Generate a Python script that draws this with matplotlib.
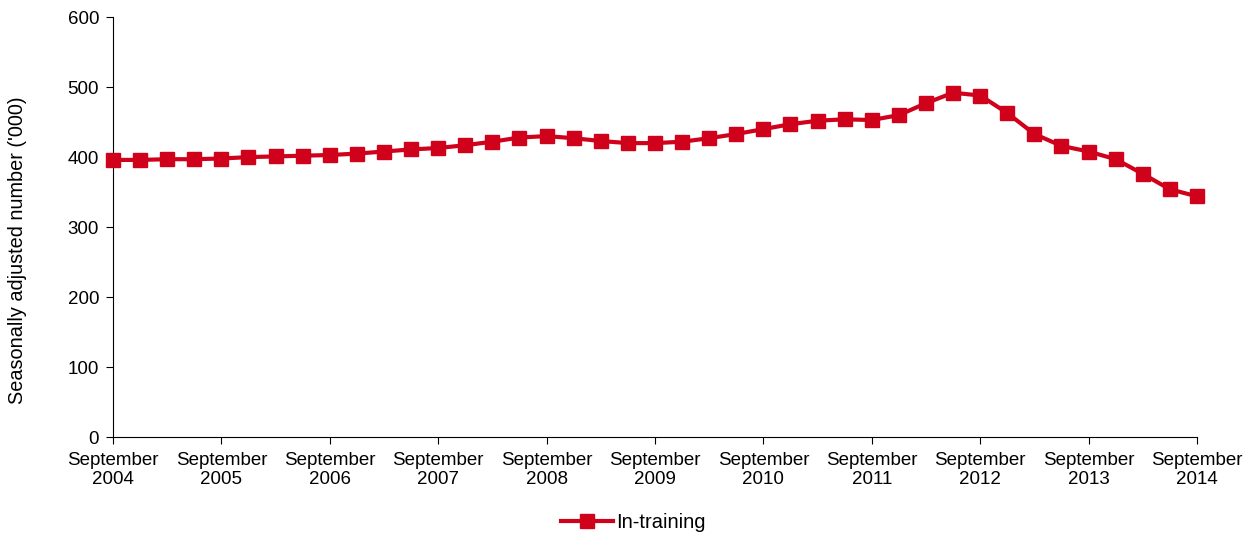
import matplotlib.pyplot as plt

plt.rcParams['font.family'] = ['Liberation Sans', 'DejaVu Sans']

years = list(range(2004, 2015))
tick_labels = ['September\n%d' % y for y in years]

# quarterly, September 2004 to September 2014 ('000)
in_training = [396, 396, 397, 397, 398, 400, 401, 402, 403, 405,
               408, 411, 413, 417, 422, 428, 430, 427, 423, 420,
               420, 422, 427, 433, 440, 447, 452, 454, 453, 460,
               477, 492, 488, 463, 433, 416, 408, 397, 376, 354,
               344]

red = '#D0021B'
fs = 13.5

fig = plt.figure(figsize=(12.47, 5.35), dpi=100)
ax = fig.add_axes([0.0906, 0.183, 0.8693, 0.785])

q = list(range(len(in_training)))
ax.plot(q, in_training, color=red, lw=3, marker='s', ms=10,
        label='In-training', clip_on=False, zorder=3)

ax.set_xlim(0, 40)
ax.set_ylim(0, 600)
ax.set_xticks(range(0, 41, 4))
ax.set_xticklabels(tick_labels, fontsize=fs, linespacing=1.1)
ax.set_yticks(range(0, 601, 100))
ax.tick_params(axis='y', labelsize=fs, direction='out', length=5, pad=5)
ax.tick_params(axis='x', direction='out', length=5, pad=6)
ax.set_ylabel("Seasonally adjusted number ('000)", fontsize=14.3)
ax.yaxis.set_label_coords(-0.079, 0.445)

for s in ['top', 'right']:
    ax.spines[s].set_visible(False)

ax.legend(loc='upper center', bbox_to_anchor=(0.48, -0.138), frameon=False,
          fontsize=14.5, handlelength=2.6, handletextpad=0.15)

plt.savefig('out.png', dpi=100)
